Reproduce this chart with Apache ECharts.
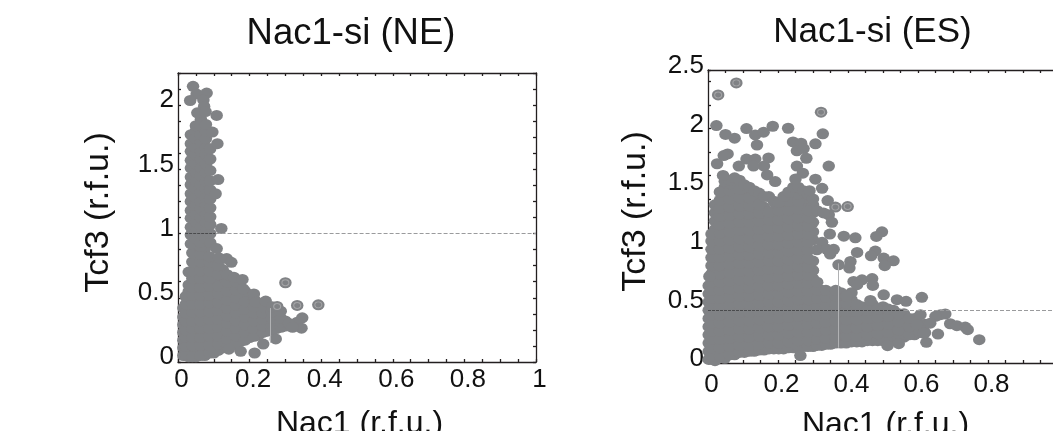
<!DOCTYPE html>
<html><head><meta charset="utf-8">
<style>html,body{margin:0;background:#fff}#c{width:1053px;height:431px}</style>
<script src="https://cdn.jsdelivr.net/npm/echarts@6/dist/echarts.min.js"></script></head>
<body><div id="c"></div><script>
const titles = ['Nac1-si (NE)', 'Nac1-si (ES)'];
const xName = 'Nac1 (r.f.u.)', yName = 'Tcf3 (r.f.u.)';
const xLabels = [0, 0.2, 0.4, 0.6, 0.8, 1];
const yLabelsNE = [0, 0.5, 1, 1.5, 2];
const yLabelsES = [0, 0.5, 1, 1.5, 2, 2.5];
const xTicks = [0,.05,.1,.15,.2,.25,.3,.35,.4,.45,.5,.55,.6,.65,.7,.75,.8,.85,.9,.95,1];
const yTicksNE = [0,.125,.25,.375,.5,.625,.75,.875,1,1.125,1.25,1.375,1.5,1.625,1.75,1.875,2,2.125,2.25];
const yTicksES = [0,.2,.4,.6,.8,1,1.2,1.4,1.6,1.8,2,2.2,2.4,2.5];

// NE stalk: column x, then the y values read in that column
const stalkNEx = [.036,.05,.064,.078,.09];
const stalkNEy = [
 [.92,.99,1.05,1.12,1.18,1.25,1.31,1.38,1.44,1.51,1.57,1.64,1.7,1.77],
 [.96,1.02,1.09,1.15,1.22,1.28,1.35,1.41,1.48,1.54,1.61,1.67,1.74,1.8,1.84],
 [.93,.99,1.06,1.12,1.19,1.25,1.32,1.38,1.45,1.51,1.58,1.64,1.71,1.77,1.84,1.89],
 [.96,1.02,1.09,1.15,1.22,1.28,1.35,1.41,1.48,1.54,1.61,1.67,1.74,1.8,1.85],
 [.93,1,1.07,1.13,1.2,1.27,1.34,1.41,1.49,1.58,1.66]
];
// NE triangle
const massNEx = [.015,.03,.05,.075,.1,.125,.15,.175,.2,.225,.25,.275,.3];
const massNEy = [
 [.05,.11,.17,.23,.29,.35,.42],
 [.04,.09,.16,.22,.29,.35,.42,.48,.55,.6,.7],
 [.04,.1,.16,.23,.29,.36,.42,.49,.55,.62,.68,.75,.81,.88,.95],
 [.05,.1,.16,.22,.29,.35,.42,.48,.55,.61,.68,.74,.8,.88],
 [.07,.12,.17,.23,.3,.36,.43,.49,.56,.62,.68,.73,.78],
 [.11,.16,.22,.28,.34,.4,.46,.52,.58,.66,.72],
 [.13,.19,.25,.31,.37,.43,.49,.55,.6,.65],
 [.16,.22,.28,.34,.4,.46,.52,.58],
 [.19,.25,.31,.37,.43,.48,.52],
 [.21,.27,.33,.38,.42,.46],
 [.24,.29,.33,.37,.41],
 [.26,.3,.33,.37],
 [.28,.3,.32]
];
const fillNEx = [.022,.04,.0625,.0875,.1125,.1375,.1625,.1875,.2125,.2375,.2625,.2875];
const fillNEy = [
 [.06,.12,.19,.25,.32,.38,.45,.51],
 [.04,.13,.19,.26,.32,.39,.45,.52,.58,.65,.71,.78,.85],
 [.05,.13,.19,.26,.32,.39,.45,.52,.58,.65,.71,.78,.84,.9],
 [.07,.13,.2,.26,.33,.39,.46,.52,.59,.65,.71,.78,.82],
 [.09,.14,.2,.27,.33,.4,.46,.53,.59,.68,.75],
 [.12,.18,.24,.3,.36,.42,.48,.55,.62,.68],
 [.15,.2,.26,.32,.38,.44,.5,.56,.62],
 [.17,.23,.29,.35,.41,.47,.55],
 [.2,.26,.32,.38,.43,.49],
 [.23,.28,.33,.38,.43],
 [.25,.29,.34,.39],
 [.27,.31,.34]
];
const outliersNE = [[.042,2.146],[.052,2.086],[.034,2.036],[.08,2.094],[.071,2.04],[.073,1.99],[.054,1.94],[.077,1.95],[.108,1.92],[.11,1.7],[.096,1.79],[.112,1.42],[.105,1.31],[.121,1.04],[.108,.883],[.115,.81],[.136,.805],[.149,.776],[.156,.66],[.18,.643],[.182,.57],[.212,.53],[.217,.466],[.245,.474],[.263,.43],[.287,.396],[.347,.344],[.333,.31],[.345,.263],[.31,.3],[.32,.27],[.273,.18],[.238,.14],[.214,.07],[.175,.083],[.142,.1]];
const ringedNE = [[.3,.617],[.277,.432],[.333,.44],[.392,.445]];

// ES mass
const massESx = [.002,.02,.048,.076,.104,.132,.16,.188,.216,.244,.272,.3,.325,.35,.38,.41,.44,.47,.5,.53,.56,.59,.62];
const massESy = [
 [.03,.1,.17,.24,.31,.38,.45,.52,.59,.66],
 [.02,.09,.16,.23,.3,.37,.44,.51,.58,.65,.72,.79,.86,.93,1,1.07,1.14,1.21,1.28,1.35],
 [.04,.1,.17,.24,.31,.38,.45,.52,.59,.66,.73,.8,.87,.94,1.01,1.08,1.15,1.22,1.29,1.36,1.43,1.5],
 [.07,.11,.18,.25,.32,.39,.46,.53,.6,.67,.74,.81,.88,.95,1.02,1.09,1.16,1.23,1.3,1.37,1.44,1.51,1.56],
 [.09,.13,.18,.25,.32,.39,.46,.53,.6,.67,.74,.81,.88,.95,1.02,1.09,1.16,1.23,1.3,1.37,1.45],
 [.1,.14,.19,.26,.33,.4,.47,.54,.61,.68,.75,.82,.89,.96,1.03,1.1,1.17,1.24,1.31,1.38],
 [.11,.15,.2,.27,.34,.41,.48,.55,.62,.69,.76,.83,.9,.97,1.04,1.11,1.18,1.25,1.33],
 [.12,.16,.2,.27,.34,.41,.48,.55,.62,.69,.76,.83,.9,.97,1.04,1.11,1.18,1.25,1.3],
 [.12,.17,.21,.28,.35,.42,.49,.56,.63,.7,.77,.84,.91,.98,1.05,1.12,1.19,1.26,1.33,1.4],
 [.13,.18,.22,.29,.36,.43,.5,.57,.64,.71,.78,.85,.92,.99,1.06,1.13,1.2,1.27,1.34,1.41,1.48],
 [.14,.18,.22,.29,.36,.43,.5,.57,.64,.71,.78,.85,.92,.99,1.06,1.13,1.2,1.27,1.34,1.4],
 [.14,.19,.23,.3,.37,.44,.51,.58,.65,.72,.79,.87,1.05,1.12,1.2,1.28,1.35],
 [.15,.2,.24,.31,.38,.45,.52,.59,.62],
 [.16,.21,.25,.32,.39,.46,.53,.6],
 [.17,.21,.26,.33,.4,.47,.54,.6],
 [.18,.22,.26,.33,.4,.47,.54,.6],
 [.18,.23,.27,.34,.41,.48],
 [.19,.24,.28,.35,.42,.5],
 [.19,.24,.29,.36,.43,.48],
 [.2,.24,.31,.38,.45],
 [.22,.27,.34,.42],
 [.24,.3,.38],
 [.26,.33]
];
const fillESx = [.01,.034,.062,.09,.118,.146,.174,.202,.23,.258,.286,.312,.337,.365,.395,.425,.455,.485,.515,.545,.575,.605];
const fillESy = [
 [.06,.13,.2,.27,.34,.41,.48,.55,.62,.69,.76,.83,.9,.97,1.04,1.1],
 [.06,.13,.2,.27,.34,.41,.48,.55,.62,.69,.76,.83,.9,.97,1.04,1.11,1.18,1.25,1.32,1.39,1.46],
 [.07,.14,.21,.28,.35,.42,.49,.56,.63,.7,.77,.84,.91,.98,1.05,1.12,1.19,1.26,1.33,1.4,1.47,1.53],
 [.09,.15,.22,.29,.36,.43,.5,.57,.64,.71,.78,.85,.92,.99,1.06,1.13,1.2,1.27,1.34,1.41,1.48],
 [.1,.15,.22,.29,.36,.43,.5,.57,.64,.71,.78,.85,.92,.99,1.06,1.13,1.2,1.27,1.34,1.41],
 [.11,.16,.23,.3,.37,.44,.51,.58,.65,.72,.79,.86,.93,1,1.07,1.14,1.21,1.28,1.35],
 [.12,.17,.24,.31,.38,.45,.52,.59,.66,.73,.8,.87,.94,1.01,1.08,1.15,1.22,1.29],
 [.12,.17,.24,.31,.38,.45,.52,.59,.66,.73,.8,.87,.94,1.01,1.08,1.15,1.22,1.3],
 [.13,.18,.25,.32,.39,.46,.53,.6,.67,.74,.81,.88,.95,1.02,1.09,1.16,1.23,1.3,1.38],
 [.14,.19,.26,.33,.4,.47,.54,.61,.68,.75,.82,.89,.96,1.03,1.1,1.17,1.24,1.31,1.38,1.44],
 [.14,.19,.26,.33,.4,.47,.54,.61,.68,.75,.82,.89,.96,1.03,1.1,1.17,1.24,1.3],
 [.15,.2,.27,.34,.41,.48,.55,.62,.69],
 [.16,.21,.28,.35,.42,.49,.56,.62],
 [.17,.22,.29,.36,.43,.5,.57,.62],
 [.17,.23,.3,.37,.44,.51,.57],
 [.18,.23,.3,.37,.44,.5],
 [.19,.24,.31,.38,.45],
 [.19,.25,.32,.39,.46],
 [.2,.26,.33,.4,.46],
 [.21,.28,.35,.42],
 [.24,.31,.38],
 [.26,.33]
];
const topES = [[.048,1.55],[.062,1.56],[.076,1.58],[.09,1.56],[.104,1.52],[.118,1.5],[.132,1.47],[.146,1.45],[.16,1.42],[.174,1.42],[.188,1.38],[.202,1.37],[.216,1.42],[.23,1.46],[.244,1.5],[.258,1.5],[.272,1.47],[.286,1.44],[.3,1.4],[.312,1.3]];
const outliersES = [[.024,2.026],[.05,1.95],[.076,1.918],[.11,2],[.135,1.946],[.159,1.969],[.185,2.02],[.229,2.003],[.328,1.955],[.14,1.86],[.243,1.886],[.266,1.875],[.307,1.87],[.254,1.81],[.273,1.83],[.281,1.747],[.056,1.784],[.045,1.77],[.026,1.7],[.345,1.68],[.254,1.68],[.088,1.68],[.11,1.74],[.135,1.74],[.173,1.75],[.16,1.68],[.13,1.68],[.043,1.6],[.169,1.605],[.192,1.548],[.271,1.62],[.25,1.57],[.307,1.568],[.326,1.49],[.29,1.47],[.342,1.386],[.345,1.264],[.354,1.2],[.33,1.28],[.348,1.1],[.388,1.082],[.421,1.068],[.497,1.119],[.481,1.08],[.326,1.03],[.311,.966],[.34,.97],[.359,.97],[.349,.93],[.426,.943],[.478,.955],[.466,.915],[.502,.895],[.53,.872],[.505,.83],[.407,.866],[.404,.81],[.373,.838],[.416,.696],[.44,.71],[.469,.72],[.426,.668],[.471,.662],[.502,.582],[.611,.56],[.464,.534],[.54,.54],[.566,.526],[.607,.412],[.664,.412],[.678,.418],[.65,.398],[.692,.335],[.711,.318],[.735,.307],[.742,.284],[.775,.199],[.657,.247],[.624,.176],[.545,.165],[.513,.148],[.635,.34],[.597,.327],[.616,.256],[.264,.063],[.004,.739]];
const ringedES = [[.081,2.39],[.029,2.287],[.323,2.14],[.364,1.33],[.399,1.335]];

const lineNE = 1, lineES = 0.45;
const seamNE = [[.257,.15],[.257,.42]], seamES = [[.373,.13],[.373,.85]];
const darkNE = [[.02,1],[.105,1]], darkES = [[0,.45],[.56,.45]];

const grey = '#808285';
const mSize = [12.5,11];
function cols(xs, yss){const o=[];xs.forEach((x,i)=>yss[i].forEach(y=>o.push([x,y])));return o;}
function markSer(i,data,lvl,seam,dark){return {type:'scatter',xAxisIndex:i*2,yAxisIndex:i*2,data,symbol:'circle',symbolSize:mSize,clip:false,
 itemStyle:{color:grey,opacity:1},silent:true,
 markLine:{silent:true,symbol:'none',z:6,label:{show:false},animation:false,data:[
  [{coord:[dark[0][0],dark[0][1]],lineStyle:{color:'#4a4b4d',type:[3,1],width:1.2}},{coord:[dark[1][0],dark[1][1]]}],
  [{coord:[dark[1][0],lvl],lineStyle:{color:'#9a9b9d',type:[4,2],width:1}},{coord:[1,lvl]}],
  [{coord:seam[0],lineStyle:{color:'#b0b1b3',type:'solid',width:1}},{coord:seam[1]}]
 ]}};}
function ringSer(i,data){return [
 {type:'scatter',xAxisIndex:i*2,yAxisIndex:i*2,data,symbol:'circle',symbolSize:mSize,clip:false,itemStyle:{color:grey,opacity:1},z:3},
 {type:'scatter',xAxisIndex:i*2,yAxisIndex:i*2,data,symbol:'circle',symbolSize:[7,6],clip:false,itemStyle:{color:grey,opacity:1,borderColor:'#a3a4a6',borderWidth:1},z:4}];}
const lineSt={lineStyle:{color:'#231f20',width:1.3}};
function axes(max,yLab,yTick,g){
 const x={type:'value',gridIndex:g,min:0,max:1,axisLine:{show:true,onZero:false,...lineSt},splitLine:{show:false},
  axisTick:{show:true,inside:true,length:3,customValues:xTicks,...lineSt},
  axisLabel:{customValues:xLabels,color:'#111',fontSize:26,fontFamily:'Liberation Sans',margin:g?9:5,padding:[0,0,0,7],formatter:v=>String(v)},
  name:xName,nameLocation:'middle',nameGap:46,nameTextStyle:{color:'#111',fontSize:32,fontFamily:'Liberation Sans',padding:[0,0,0,5]}};
 const x2={type:'value',gridIndex:g,position:'top',min:0,max:1,axisLine:{show:true,onZero:false,...lineSt},splitLine:{show:false},
  axisTick:{show:true,inside:true,length:3,customValues:xTicks,...lineSt},axisLabel:{show:false}};
 const y={type:'value',gridIndex:g,min:0,max,axisLine:{show:true,onZero:false,...lineSt},splitLine:{show:false},
  axisTick:{show:true,inside:true,length:3,customValues:yTick,...lineSt},
  axisLabel:{customValues:yLab,color:'#111',fontSize:26,fontFamily:'Liberation Sans',margin:4,verticalAlign:'bottom',lineHeight:g?8:10,formatter:v=>String(v)},
  name:yName,nameLocation:'middle',nameGap:g?55:62,nameTextStyle:{color:'#111',fontSize:34,fontFamily:'Liberation Sans',padding:[0,0,0,10]}};
 const y2={type:'value',gridIndex:g,position:'right',min:0,max,axisLine:{show:true,onZero:false,...lineSt},splitLine:{show:false},
  axisTick:{show:true,inside:true,length:3,customValues:yTick,...lineSt},axisLabel:{show:false}};
 return {x:[x,x2],y:[y,y2]};
}
const a0=axes(2.25,yLabelsNE,yTicksNE,0), a1=axes(2.5,yLabelsES,yTicksES,1);
const chart=echarts.init(document.getElementById('c'),null,{renderer:'canvas'});
chart.setOption({animation:false,backgroundColor:'#fff',
 title:[
  {text:titles[0],left:346,top:10,textAlign:'center',textStyle:{color:'#111',fontSize:36.5,fontWeight:'normal',fontFamily:'Liberation Sans'}},
  {text:titles[1],left:867.5,top:10,textAlign:'center',textStyle:{color:'#111',fontSize:35,fontWeight:'normal',fontFamily:'Liberation Sans'}}],
 grid:[{left:178,top:73,width:358,height:289,outerBoundsMode:'none'},{left:708,top:70,width:350,height:293,outerBoundsMode:'none'}],
 xAxis:[...a0.x,...a1.x], yAxis:[...a0.y,...a1.y],
 series:[
  markSer(0,[...cols(massNEx,massNEy),...cols(fillNEx,fillNEy),...cols(stalkNEx,stalkNEy),...outliersNE],lineNE,seamNE,darkNE),
  ...ringSer(0,ringedNE),
  markSer(1,[...cols(massESx,massESy),...cols(fillESx,fillESy),...topES,...outliersES],lineES,seamES,darkES),
  ...ringSer(1,ringedES)
 ]});
</script></body></html>
